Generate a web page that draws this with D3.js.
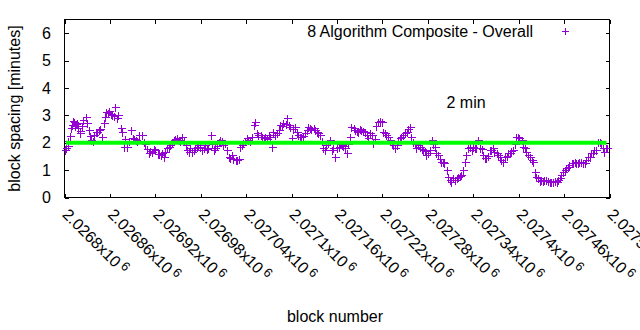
<!DOCTYPE html>
<html>
<head>
<meta charset="utf-8">
<script src="https://cdn.jsdelivr.net/npm/d3@7/dist/d3.min.js"></script>
<style>
  html, body { margin: 0; padding: 0; background: #fff; }
  svg { display: block; }
  text { font-family: "Liberation Sans", Arial, sans-serif; fill: #000; }
</style>
</head>
<body>
<svg id="chart" width="640" height="330"></svg>
<script>
// ---- data ----
const blockNumbers = [
2026801,2026802,2026804,2026805,2026807,2026809,2026810,2026811,2026812,2026814,
2026815,2026817,2026818,2026820,2026821,2026823,2026825,2026828,2026830,2026832,
2026834,2026835,2026837,2026839,2026841,2026843,2026845,2026847,2026850,2026852,
2026853,2026855,2026857,2026859,2026861,2026863,2026865,2026867,2026870,2026871,
2026874,2026876,2026878,2026880,2026883,2026885,2026888,2026890,2026892,2026894,
2026896,2026899,2026902,2026905,2026907,2026909,2026911,2026913,2026916,2026918,
2026920,2026923,2026925,2026927,2026929,2026931,2026933,2026935,2026938,2026940,
2026942,2026944,2026946,2026949,2026951,2026953,2026955,2026958,2026960,2026962,
2026964,2026966,2026968,2026971,2026973,2026975,2026977,2026979,
2026982,2026984,2026986,2026988,2026990,2026993,2026995,2026997,2026999,2027001,
2027004,2027006,2027008,2027010,2027012,2027015,2027017,2027019,2027021,2027023,
2027026,2027028,2027030,2027032,2027034,2027036,2027039,2027041,2027043,2027045,
2027048,2027050,2027052,2027054,2027056,2027059,2027061,2027063,2027065,2027067,
2027070,2027072,2027074,2027076,2027078,2027081,2027083,2027085,2027087,2027089,
2027092,2027094,2027096,2027098,2027100,2027102,2027105,2027107,2027109,2027111,
2027113,2027115,2027118,2027120,2027122,2027124,2027126,2027129,2027131,2027133,
2027135,2027138,2027140,2027142,2027144,2027146,2027148,2027151,2027153,2027155,
2027157,2027160,2027162,2027164,2027166,2027168,2027171,2027173,2027175,2027177,
2027179,2027182,2027184,2027186,2027188,2027190,2027192,2027195,2027197,2027199,
2027201,2027204,2027206,2027208,2027210,2027212,2027214,2027217,2027219,2027221,
2027223,2027225,2027228,2027230,2027232,2027234,2027236,2027239,2027241,2027243,
2027245,2027247,2027250,2027252,2027254,2027256,2027258,2027261,2027263,2027265,
2027267,2027269,2027272,2027274,2027276,2027278,2027280,2027283,2027285,2027287,
2027289,2027291,2027294,2027296,2027298,2027300,2027302,2027305,2027307,2027309,
2027311,2027313,2027316,2027318,2027320,2027322,2027324,2027327,2027329,2027331,
2027333,
2027336,2027338,2027340,2027342,2027344,2027346,2027349,2027351,2027353,2027355,
2027357,2027360,2027362,2027364,2027366,2027368,2027371,2027373,2027375,2027377,
2027379,2027382,2027384,2027386,2027388,2027390,2027393,2027395,2027397,2027399,
2027401,2027404,2027406,2027408,2027410,2027412,2027415,2027417,2027419,2027421,
2027423,2027426,2027428,2027430,2027432,2027434,2027436,2027439,2027441,2027443,
2027445,2027448,2027450,2027452,2027454,2027456,2027459,2027461,2027463,2027465,
2027467,2027470,2027472,2027474,2027476,2027478,2027480,2027483,2027485,2027487,
2027489,2027491,2027494,2027496,2027498,2027500,2027502,2027505,2027507,2027509,
2027511,2027513,2027515,2027517
];
const blockSpacing = [
1.72,1.80,1.88,2.05,2.25,2.55,2.65,2.78,2.75,2.60,
2.68,2.72,2.55,2.42,2.35,2.62,2.83,2.95,2.72,2.45,
2.25,2.10,2.05,2.30,2.40,2.38,2.47,2.50,2.22,2.71,
2.95,3.13,3.08,3.15,3.05,3.02,2.98,3.32,2.89,3.02,
2.55,2.40,1.86,2.15,1.86,2.05,2.47,2.18,2.12,2.10,
2.05,2.30,2.28,2.04,1.95,1.78,1.61,1.70,1.67,1.78,
1.73,1.60,1.58,1.55,1.62,1.49,1.65,1.80,1.85,1.92,
1.98,2.10,2.12,2.16,2.10,2.06,2.22,2.05,1.92,1.75,
1.67,1.82,1.67,1.75,1.80,1.85,1.92,1.86,
1.73,1.80,1.90,1.78,1.82,2.28,1.95,1.75,1.80,1.88,
2.02,2.10,2.05,1.92,2.00,1.75,1.49,1.45,1.55,1.42,
1.38,1.37,1.40,1.86,1.90,1.98,2.05,2.16,2.10,2.08,
2.22,2.65,2.77,2.34,2.30,2.28,2.22,2.18,2.22,2.15,
2.28,2.20,1.86,2.40,2.30,2.34,2.45,2.65,2.62,2.71,
2.70,2.89,2.65,2.59,2.16,2.50,2.59,2.40,2.28,2.20,
2.22,2.25,2.34,2.45,2.59,2.55,2.50,2.53,2.45,2.40,
2.35,2.28,2.05,1.80,1.75,1.92,2.00,2.10,1.73,1.80,
1.49,1.80,1.86,1.95,1.92,1.88,1.80,1.61,1.95,2.22,
2.59,2.52,2.47,2.42,2.40,2.50,2.47,2.44,2.40,2.30,
2.16,2.35,2.28,1.98,2.15,2.60,2.77,2.80,2.77,2.40,
2.35,2.28,2.20,2.10,1.98,1.90,1.80,1.92,2.05,2.16,
2.20,2.28,2.35,2.40,2.50,2.59,2.20,2.04,1.95,1.80,
1.92,1.86,1.78,1.73,1.70,1.55,1.62,1.73,2.10,1.95,
1.86,1.61,1.55,1.40,1.31,1.28,1.25,1.00,0.75,0.64,
0.58,0.70,0.64,0.72,0.76,0.78,0.82,1.00,1.31,1.55,
1.80,
1.86,1.73,1.86,1.80,1.82,2.10,1.80,1.78,1.55,1.43,
1.45,1.50,1.73,1.75,1.80,1.67,1.61,1.55,1.49,1.37,
1.31,1.49,1.50,1.61,1.62,1.70,1.73,1.95,2.22,2.20,
2.16,2.10,1.86,1.80,1.67,1.55,1.49,1.37,1.31,0.94,
0.75,0.70,0.62,0.64,0.60,0.63,0.64,0.60,0.57,0.58,
0.58,0.62,0.58,0.64,0.70,0.82,0.94,1.00,1.07,1.12,
1.19,1.25,1.25,1.31,1.27,1.25,1.31,1.28,1.25,1.25,
1.37,1.49,1.49,1.61,1.61,1.73,1.73,2.04,2.04,1.98,
1.80,1.67,1.80,1.80
];
const targetBlocks = [2026802, 2027516];
const targetMinutes = [2, 2];
const xTickValues = [2026800,2026860,2026920,2026980,2027040,2027100,2027160,2027220,2027280,2027340,2027400,2027460,2027520];
const xTickLabels = ["2.0268","2.02686","2.02692","2.02698","2.02704","2.0271","2.02716","2.02722","2.02728","2.02734","2.0274","2.02746","2.02752"];
const yTickValues = [0,1,2,3,4,5,6];
const yTickLabels = ["0","1","2","3","4","5","6"];
const seriesName = "8 Algorithm Composite - Overall";
const annotation = "2 min";

// ---- layout ----
const svg = d3.select("#chart");
const L = 64.5, R = 609.5, T = 19.5, B = 197.5;
const x = d3.scaleLinear().domain([2026800, 2027520]).range([L, R]);
const y = d3.scaleLinear().domain([0, 6.5]).range([B, T]);
const purple = "#9400d3", green = "#00ff00";
const fs = 16;

// ticks (inward, mirrored)
const tickLen = 4;
const gB = svg.append("g").attr("transform", `translate(0,${B})`)
  .call(d3.axisBottom(x).tickValues(xTickValues).tickSizeInner(-tickLen).tickSizeOuter(0).tickFormat(""));
const gT = svg.append("g").attr("transform", `translate(0,${T})`)
  .call(d3.axisTop(x).tickValues(xTickValues).tickSizeInner(-tickLen).tickSizeOuter(0).tickFormat(""));
const gL = svg.append("g").attr("transform", `translate(${L},0)`)
  .call(d3.axisLeft(y).tickValues(yTickValues).tickSizeInner(-tickLen).tickSizeOuter(0)
    .tickPadding(13.5).tickFormat((d, i) => yTickLabels[i]));
const gR = svg.append("g").attr("transform", `translate(${R},0)`)
  .call(d3.axisRight(y).tickValues(yTickValues).tickSizeInner(-tickLen).tickSizeOuter(0).tickFormat(""));
[gB, gT, gL, gR].forEach(g => {
  g.select(".domain").remove();
  g.selectAll(".tick line").attr("stroke", "#000").attr("shape-rendering", "crispEdges");
  g.selectAll("text").attr("font-size", fs).attr("font-family", '"Liberation Sans", Arial, sans-serif').attr("fill", "#000");
});

// frame
svg.append("rect").attr("x", L).attr("y", T).attr("width", R - L).attr("height", B - T)
  .attr("fill", "none").attr("stroke", "#000").attr("stroke-width", 1).attr("shape-rendering", "crispEdges");

// x tick labels, rotated
const xl = svg.append("g");
xTickValues.forEach((v, i) => {
  const t = xl.append("text")
    .attr("transform", `translate(${x(v) - 3},${B + 18}) rotate(45)`)
    .attr("font-size", fs);
  t.append("tspan").text(xTickLabels[i] + "x10");
  t.append("tspan").attr("font-size", fs * 0.8).attr("dx", 3).attr("dy", -5).text("6");
});

// data points (+)
const pts = blockNumbers.map((b, i) => [b, blockSpacing[i]]);
const h = 4;
svg.append("g").selectAll("path").data(pts).enter().append("path")
  .attr("d", d => {
    const px = Math.round(x(d[0])) + 0.5, py = Math.round(y(d[1])) + 0.5;
    return `M${px - h},${py}H${px + h}M${px},${py - h}V${py + h}`;
  })
  .attr("stroke", purple).attr("stroke-width", 1).attr("fill", "none").attr("shape-rendering", "crispEdges");

// target line
svg.append("path")
  .datum(targetBlocks.map((b, i) => [b, targetMinutes[i]]))
  .attr("d", d3.line().x(d => x(d[0])).y(d => y(d[1])))
  .attr("stroke", green).attr("stroke-width", 4).attr("fill", "none");

// legend
svg.append("text").attr("x", 533).attr("y", 36.5).attr("text-anchor", "end").attr("font-size", fs).text(seriesName);
svg.append("path").attr("d", `M${562},${31.5}H${569}M${565.5},${28}V${35}`)
  .attr("stroke", purple).attr("stroke-width", 1).attr("shape-rendering", "crispEdges");

// annotation
svg.append("text").attr("x", 446.5).attr("y", 107.5).attr("font-size", fs).text(annotation);

// axis titles
svg.append("text").attr("x", (L + R) / 2 - 2).attr("y", 321.5).attr("text-anchor", "middle").attr("font-size", fs).text("block number");
svg.append("text").attr("transform", `translate(20,${(T + B) / 2}) rotate(-90)`)
  .attr("text-anchor", "middle").attr("font-size", fs).text("block spacing [minutes]");
</script>
</body>
</html>
